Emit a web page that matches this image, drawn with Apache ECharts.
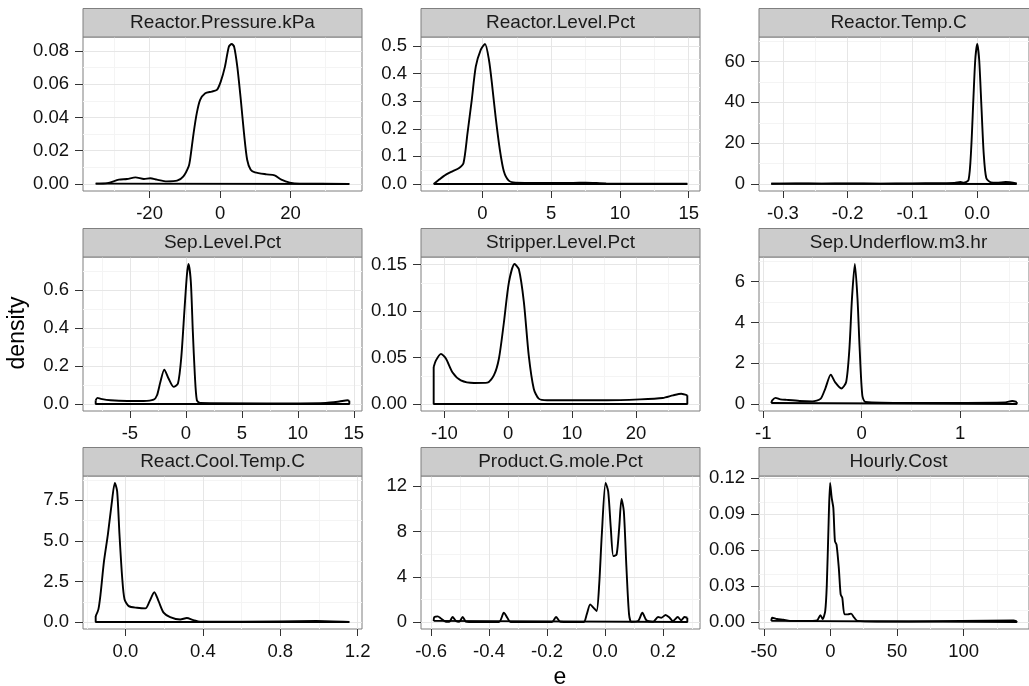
<!DOCTYPE html>
<html>
<head>
<meta charset="utf-8">
<script src="https://cdn.jsdelivr.net/npm/echarts@6/dist/echarts.min.js"></script>
<style>
html,body{margin:0;padding:0;background:#ffffff;}
#chart{width:1029px;height:686px;}
</style>
</head>
<body>
<div id="chart"></div>
<script>
// ---------------- data ----------------
const panelTitles = ["Reactor.Pressure.kPa","Reactor.Level.Pct","Reactor.Temp.C",
  "Sep.Level.Pct","Stripper.Level.Pct","Sep.Underflow.m3.hr",
  "React.Cool.Temp.C","Product.G.mole.Pct","Hourly.Cost"];

const pressureX = [-35.3,-32.0,-28.7,-26.4,-24.0,-21.6,-19.8,-17.9,-15.1,-12.2,-10.4,-8.9,-8.5,-7.5,-6.6,-5.65,-4.2,-2.35,-0.9,0.2,1.4,2.5,3.3,4.0,4.9,5.9,6.8,7.7,8.7,9.9,13.2,15.5,17.4,19.8,22.6,36.7];
const pressureY = [0.0002,0.0005,0.0026,0.003,0.004,0.003,0.0035,0.0026,0.0016,0.002,0.0046,0.0106,0.0146,0.0306,0.0426,0.0506,0.0546,0.0556,0.0566,0.0616,0.0706,0.0826,0.0842,0.0826,0.0706,0.0506,0.0306,0.0146,0.0086,0.007,0.0058,0.0052,0.0026,0.0008,0.0002,0.0001];

const levelX = [-3.54,-3.14,-2.65,-2.17,-1.69,-1.37,-1.08,-0.77,-0.48,-0.12,0.19,0.48,0.72,0.96,1.27,1.56,1.92,2.41,4.2,6.6,7.5,9.0,14.9];
const levelY = [0,0.016,0.034,0.046,0.058,0.076,0.184,0.305,0.425,0.486,0.507,0.449,0.353,0.244,0.124,0.046,0.012,0.005,0.004,0.004,0.005,0.002,0.001];

const tempX = [-0.318,-0.28,-0.24,-0.2,-0.15,-0.1,-0.06,-0.035,-0.026,-0.021,-0.0134,-0.0094,-0.006,-0.003,0.0,0.003,0.0065,0.010,0.014,0.021,0.03,0.044,0.061];
const tempY = [0.1,0.3,0.2,0.3,0.2,0.3,0.4,0.5,1.0,0.6,2.0,16.8,41,61,68.6,61,38,15,2.9,0.8,0.6,1.0,0.3];

const sepLevelX = [-8.06,-7.9,-7.6,-6.73,-5.24,-3.77,-2.88,-2.58,-2.28,-1.93,-1.55,-1.10,-0.71,-0.42,-0.12,0.09,0.23,0.44,0.62,0.80,0.98,1.27,7.2,12.5,13.7,14.45,14.6];
const sepLevelY = [0.02,0.032,0.027,0.0195,0.016,0.016,0.023,0.046,0.116,0.181,0.134,0.09,0.108,0.24,0.503,0.679,0.737,0.644,0.38,0.151,0.0195,0.005,0.003,0.006,0.013,0.0195,0.017];

const stripperX = [-11.68,-11.32,-10.54,-9.77,-8.72,-7.43,-5.36,-3.27,-2.24,-1.46,-0.68,0.10,0.98,1.66,2.44,3.21,3.99,4.77,6.07,15.4,20.6,24.2,25.8,27.1,28.04];
const stripperY = [0.0397,0.047,0.054,0.049,0.034,0.0255,0.0226,0.023,0.031,0.049,0.088,0.131,0.1507,0.145,0.110,0.052,0.0165,0.0058,0.004,0.004,0.005,0.0065,0.0093,0.011,0.0093];

const underflowX = [-0.918,-0.908,-0.875,-0.826,-0.761,-0.63,-0.50,-0.418,-0.369,-0.313,-0.271,-0.206,-0.157,-0.124,-0.098,-0.069,-0.042,-0.020,0.007,0.039,0.48,1.46,1.53,1.576];
const underflowY = [0.05,0.18,0.30,0.23,0.2,0.15,0.13,0.25,0.76,1.44,1.08,0.76,1.08,2.72,5.18,6.87,5.18,2.72,0.43,0.1,0.05,0.08,0.15,0.1];

const coolX = [-0.154,-0.140,-0.129,-0.111,-0.091,-0.072,-0.055,-0.043,-0.031,-0.017,-0.005,0.017,0.060,0.103,0.125,0.149,0.171,0.197,0.231,0.283,0.317,0.351,0.386,0.6,0.986,1.157];
const coolY = [0.37,0.78,1.70,3.75,5.39,7.23,8.57,8.05,5.39,2.73,1.40,0.98,0.88,0.84,1.29,1.84,1.29,0.58,0.31,0.16,0.25,0.12,0.02,0.02,0.06,0.0];

const productX = [-0.591,-0.589,-0.577,-0.566,-0.549,-0.537,-0.526,-0.514,-0.503,-0.491,-0.480,-0.469,-0.366,-0.349,-0.337,-0.326,-0.183,-0.169,-0.154,-0.074,-0.063,-0.051,-0.040,-0.029,-0.020,-0.011,0.002,0.011,0.020,0.029,0.040,0.049,0.057,0.065,0.074,0.083,0.091,0.114,0.129,0.143,0.166,0.183,0.194,0.209,0.223,0.234,0.251,0.263,0.274,0.284];
const productY = [0.1,0.44,0.5,0.32,0.03,0.03,0.44,0.09,0.03,0.44,0.03,0,0,0.82,0.38,0,0,0.44,0.03,0,0.68,1.56,1.27,0.97,3.33,7.74,12.3,11.56,8.33,5.83,5.97,8.33,10.89,9.8,4.8,0.68,0.03,0.09,0.82,0.15,0.03,0.44,0.38,0.62,0.38,0.09,0.44,0.15,0.44,0.38];

const costX = [-44.4,-43.7,-40.1,-35.3,-30.4,-13.5,-9.9,-7.5,-5.8,-3.9,-2.7,-1.45,-0.24,0.97,2.2,3.4,4.6,6.3,7.7,8.9,10.6,13.0,15.5,17.9,20.3,34.8,58.9,137.5,139.9];
const costY = [0.001,0.0036,0.0025,0.0019,0.001,0.001,0.0014,0.0058,0.0025,0.0091,0.031,0.0785,0.1159,0.1034,0.0951,0.0673,0.0646,0.0452,0.023,0.0203,0.0064,0.0064,0.007,0.0036,0.001,0.0005,0.0005,0.0014,0.0006];

// tick values and labels
const pressureXTicks = [-20,0,20];            const pressureXLabels = ["-20","0","20"];
const pressureYTicks = [0,0.02,0.04,0.06,0.08]; const pressureYLabels = ["0.00","0.02","0.04","0.06","0.08"];
const levelXTicks = [0,5,10,15];               const levelXLabels = ["0","5","10","15"];
const levelYTicks = [0,0.1,0.2,0.3,0.4,0.5];   const levelYLabels = ["0.0","0.1","0.2","0.3","0.4","0.5"];
const tempXTicks = [-0.3,-0.2,-0.1,0];         const tempXLabels = ["-0.3","-0.2","-0.1","0.0"];
const tempYTicks = [0,20,40,60];               const tempYLabels = ["0","20","40","60"];
const sepLevelXTicks = [-5,0,5,10,15];         const sepLevelXLabels = ["-5","0","5","10","15"];
const sepLevelYTicks = [0,0.2,0.4,0.6];        const sepLevelYLabels = ["0.0","0.2","0.4","0.6"];
const stripperXTicks = [-10,0,10,20];          const stripperXLabels = ["-10","0","10","20"];
const stripperYTicks = [0,0.05,0.10,0.15];     const stripperYLabels = ["0.00","0.05","0.10","0.15"];
const underflowXTicks = [-1,0,1];              const underflowXLabels = ["-1","0","1"];
const underflowYTicks = [0,2,4,6];             const underflowYLabels = ["0","2","4","6"];
const coolXTicks = [0,0.4,0.8,1.2];            const coolXLabels = ["0.0","0.4","0.8","1.2"];
const coolYTicks = [0,2.5,5,7.5];              const coolYLabels = ["0.0","2.5","5.0","7.5"];
const productXTicks = [-0.6,-0.4,-0.2,0,0.2];  const productXLabels = ["-0.6","-0.4","-0.2","0.0","0.2"];
const productYTicks = [0,4,8,12];              const productYLabels = ["0","4","8","12"];
const costXTicks = [-50,0,50,100];             const costXLabels = ["-50","0","50","100"];
const costYTicks = [0,0.03,0.06,0.09,0.12];    const costYLabels = ["0.00","0.03","0.06","0.09","0.12"];

const xAxisTitle = "e";
const yAxisTitle = "density";

// ---------------- build ----------------
const panels = [
  [pressureX, pressureY, pressureXTicks, pressureXLabels, pressureYTicks, pressureYLabels],
  [levelX, levelY, levelXTicks, levelXLabels, levelYTicks, levelYLabels],
  [tempX, tempY, tempXTicks, tempXLabels, tempYTicks, tempYLabels],
  [sepLevelX, sepLevelY, sepLevelXTicks, sepLevelXLabels, sepLevelYTicks, sepLevelYLabels],
  [stripperX, stripperY, stripperXTicks, stripperXLabels, stripperYTicks, stripperYLabels],
  [underflowX, underflowY, underflowXTicks, underflowXLabels, underflowYTicks, underflowYLabels],
  [coolX, coolY, coolXTicks, coolXLabels, coolYTicks, coolYLabels],
  [productX, productY, productXTicks, productXLabels, productYTicks, productYLabels],
  [costX, costY, costXTicks, costXLabels, costYTicks, costYLabels]
];

const FONT = "'Liberation Sans', Arial, sans-serif";
const colLeft = [83, 421, 759];
const rowTop = [37, 257, 476];
const panelW = 279;
const panelH = [154, 154, 153];
const stripH = 28.5;

function lookupLabel(vals, labels) {
  return function (v) {
    let best = 0, bd = Infinity;
    for (let i = 0; i < vals.length; i++) {
      const d = Math.abs(vals[i] - v);
      if (d < bd) { bd = d; best = i; }
    }
    return labels[best];
  };
}
function minorBreaks(ticks, lo, hi) {
  const step = ticks[1] - ticks[0];
  const ext = [ticks[0] - step].concat(ticks, [ticks[ticks.length - 1] + step]);
  const out = [];
  for (let i = 0; i < ext.length - 1; i++) {
    const m = (ext[i] + ext[i + 1]) / 2;
    if (m > lo && m < hi) out.push(m);
  }
  return out;
}

const grids = [], xAxes = [], yAxes = [], series = [], graphics = [];

panels.forEach(function (p, i) {
  const [xs, ys, xt, xl, yt, yl] = p;
  const r = Math.floor(i / 3), c = i % 3;
  const xMin = Math.min.apply(null, xs), xMax = Math.max.apply(null, xs);
  const yMax = Math.max.apply(null, ys);
  const xr = xMax - xMin;
  const axMin = xMin - 0.05 * xr, axMax = xMax + 0.05 * xr;
  const ayMin = -0.05 * yMax, ayMax = 1.05 * yMax;

  grids.push({
    left: colLeft[c], top: rowTop[r], width: panelW, height: panelH[r],
    show: true, backgroundColor: '#ffffff', borderColor: '#7f7f7f', borderWidth: 1,
    containLabel: false
  });
  xAxes.push({
    type: 'value', gridIndex: i, min: axMin, max: axMax, position: 'bottom',
    axisLine: { show: false, onZero: false },
    axisTick: { show: true, length: 7, inside: false, customValues: xt, lineStyle: { color: '#333333', width: 1 } },
    axisLabel: { show: true, customValues: xt, formatter: lookupLabel(xt, xl), margin: 13,
      fontSize: 18.5, color: '#111111', fontFamily: FONT, hideOverlap: false },
    splitLine: { show: false }
  });
  yAxes.push({
    type: 'value', gridIndex: i, min: ayMin, max: ayMax, position: 'left',
    axisLine: { show: false, onZero: false },
    axisTick: { show: true, length: 8, inside: false, customValues: yt, lineStyle: { color: '#333333', width: 1 } },
    axisLabel: { show: true, customValues: yt, formatter: lookupLabel(yt, yl), margin: 14,
      fontSize: 18.5, color: '#111111', fontFamily: FONT, hideOverlap: false },
    splitLine: { show: false }
  });

  const gridData = [];
  minorBreaks(xt, axMin, axMax).forEach(v => gridData.push({ xAxis: v, lineStyle: { color: '#f4f4f4', width: 1, type: 'solid' } }));
  minorBreaks(yt, ayMin, ayMax).forEach(v => gridData.push({ yAxis: v, lineStyle: { color: '#f4f4f4', width: 1, type: 'solid' } }));
  xt.forEach(v => gridData.push({ xAxis: v, lineStyle: { color: '#e6e6e6', width: 1, type: 'solid' } }));
  yt.forEach(v => gridData.push({ yAxis: v, lineStyle: { color: '#e6e6e6', width: 1, type: 'solid' } }));

  // grid lines (drawn through the axes' own scales)
  series.push({
    type: 'line', xAxisIndex: i, yAxisIndex: i, data: [], z: 1, silent: true,
    markLine: { silent: true, z: 1, symbol: ['none', 'none'], label: { show: false },
      animation: false, emphasis: { disabled: true }, data: gridData }
  });
  // density curve
  const curve = xs.map((x, k) => [x, ys[k]]);
  series.push({
    type: 'line', xAxisIndex: i, yAxisIndex: i, data: curve, z: 10,
    showSymbol: false, symbol: 'none', smooth: 0.25,
    lineStyle: { color: '#000000', width: 1.9 }, silent: true
  });
  // polygon closure: ends + baseline
  series.push({
    type: 'line', xAxisIndex: i, yAxisIndex: i, z: 10,
    data: [[xMin, ys[0]], [xMin, 0], [xMax, 0], [xMax, ys[ys.length - 1]]],
    showSymbol: false, symbol: 'none', smooth: false,
    lineStyle: { color: '#000000', width: 1.9 }, silent: true
  });

  // strip
  graphics.push({
    type: 'rect', shape: { x: colLeft[c], y: rowTop[r] - stripH, width: panelW, height: stripH },
    style: { fill: '#cccccc', stroke: '#7f7f7f', lineWidth: 1 }, z: 5
  });
  graphics.push({
    type: 'text', x: colLeft[c] + panelW / 2, y: rowTop[r] - stripH / 2 + 0.5, z: 6,
    style: { text: panelTitles[i], fontSize: 19, fontFamily: FONT, fill: '#1a1a1a',
      align: 'center', verticalAlign: 'middle' }
  });
});

graphics.push({
  type: 'text', x: 560, y: 678, z: 6,
  style: { text: xAxisTitle, fontSize: 23, fontFamily: FONT, fill: '#000000', align: 'center', verticalAlign: 'middle' }
});
graphics.push({
  type: 'text', x: 18, y: 333, rotation: Math.PI / 2, z: 6,
  style: { text: yAxisTitle, fontSize: 23, fontFamily: FONT, fill: '#000000', align: 'center', verticalAlign: 'middle' }
});

const chart = echarts.init(document.getElementById('chart'), null, { renderer: 'canvas' });
chart.setOption({
  animation: false,
  backgroundColor: '#ffffff',
  grid: grids,
  xAxis: xAxes,
  yAxis: yAxes,
  series: series,
  graphic: { elements: graphics }
});
</script>
</body>
</html>
